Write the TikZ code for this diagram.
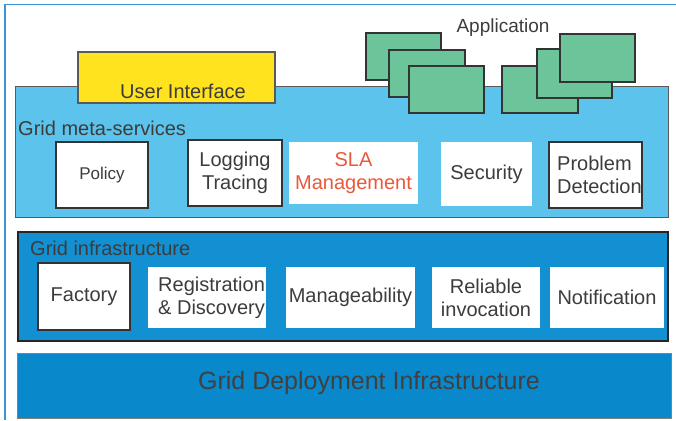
\documentclass[tikz,border=0pt]{standalone}
\usepackage{fontspec}
\setmainfont{Liberation Sans}
\definecolor{framec}{HTML}{3A95D8}
\definecolor{metac}{HTML}{5CC3EC}
\definecolor{infrac}{HTML}{1390D2}
\definecolor{deployc}{HTML}{0A88CC}
\definecolor{greenc}{HTML}{6CC49B}
\definecolor{yellowc}{HTML}{FFE31E}
\definecolor{slac}{HTML}{E9583C}
\definecolor{textc}{HTML}{3C3C3C}
\tikzset{
  layer/.style={draw=#1, line width=1pt},
  appbox/.style={fill=greenc, draw=black!80, line width=1.6pt},
  wbox/.style={fill=white, draw=none, rectangle, inner sep=0pt, align=center,
    text=textc, font=\fontsize{20}{23}\selectfont},
  dbox/.style={wbox, draw=black!80, line width=1.4pt},
  title/.style={text=textc, inner sep=0pt, font=\fontsize{20}{23}\selectfont},
}
\begin{document}
\begin{tikzpicture}[x=1pt,y=-1pt]
\useasboundingbox (0,0) rectangle (676,420);
% frame
\draw[framec, line width=1.3pt] (5,420) -- (5,4.5) -- (676,4.5);
% meta services layer
\draw[fill=metac, draw=black!65, line width=1pt] (15,86) rectangle (668,217);
% user interface
\draw[fill=yellowc, draw=black!65, line width=1.2pt] (78,52) rectangle (275,103);
\node[title] (ui) at (183,91) {User Interface};
% applications
\node[title, font=\fontsize{19}{22}\selectfont] (app) at (503,28) {Application};
\draw[appbox] (366,33) rectangle (441,80);
\draw[appbox] (389,50) rectangle (465,97);
\draw[appbox] (409,66) rectangle (484,113);
\draw[appbox] (502,66) rectangle (578,113);
\draw[appbox] (537,49) rectangle (612,98);
\draw[appbox] (560,34) rectangle (635,82);
% meta services
\node[title, anchor=west] (meta) at (18,128) {Grid meta-services};
\node[dbox, minimum width=92pt, minimum height=66pt, font=\fontsize{17}{20}\selectfont] (policy) at (102,175) {Policy};
\node[dbox, minimum width=94pt, minimum height=66pt] (logging) at (235,173) {Logging\\Tracing};
\node[wbox, minimum width=129pt, minimum height=62pt, text=slac] (sla) at (353.5,173) {SLA\\Management};
\node[wbox, minimum width=91pt, minimum height=64pt] (security) at (486.5,174) {Security};
\node[dbox, minimum width=93pt, minimum height=66pt] (problem) at (595.5,175) {};
\node[title, align=left, anchor=west] (problemt) at (557,175) {Problem\\Detection};
% grid infrastructure
\draw[fill=infrac, draw=black!85, line width=1.2pt] (18,232) rectangle (668,341);
\node[title, anchor=west] (infra) at (30,248) {Grid infrastructure};
\node[dbox, minimum width=92pt, minimum height=67pt] (factory) at (84,296.5) {Factory};
\node[wbox, minimum width=118pt, minimum height=61pt] (reg) at (207,297.5) {};
\node[title, align=left, anchor=west] (regt) at (158,297.5) {Registration\\\& Discovery};
\node[wbox, minimum width=129pt, minimum height=61pt] (manage) at (350.5,297.5) {Manageability};
\node[wbox, minimum width=108pt, minimum height=61pt] (reliable) at (486,297.5) {Reliable\\invocation};
\node[wbox, minimum width=114pt, minimum height=61pt] (notif) at (607,297.5) {Notification};
% deployment
\draw[fill=deployc, draw=black!50, line width=1pt] (17,353) rectangle (671,418);
\node[title, font=\fontsize{25}{28}\selectfont, text=black!75] (deploy) at (369,383) {Grid Deployment Infrastructure};
\end{tikzpicture}
\end{document}
